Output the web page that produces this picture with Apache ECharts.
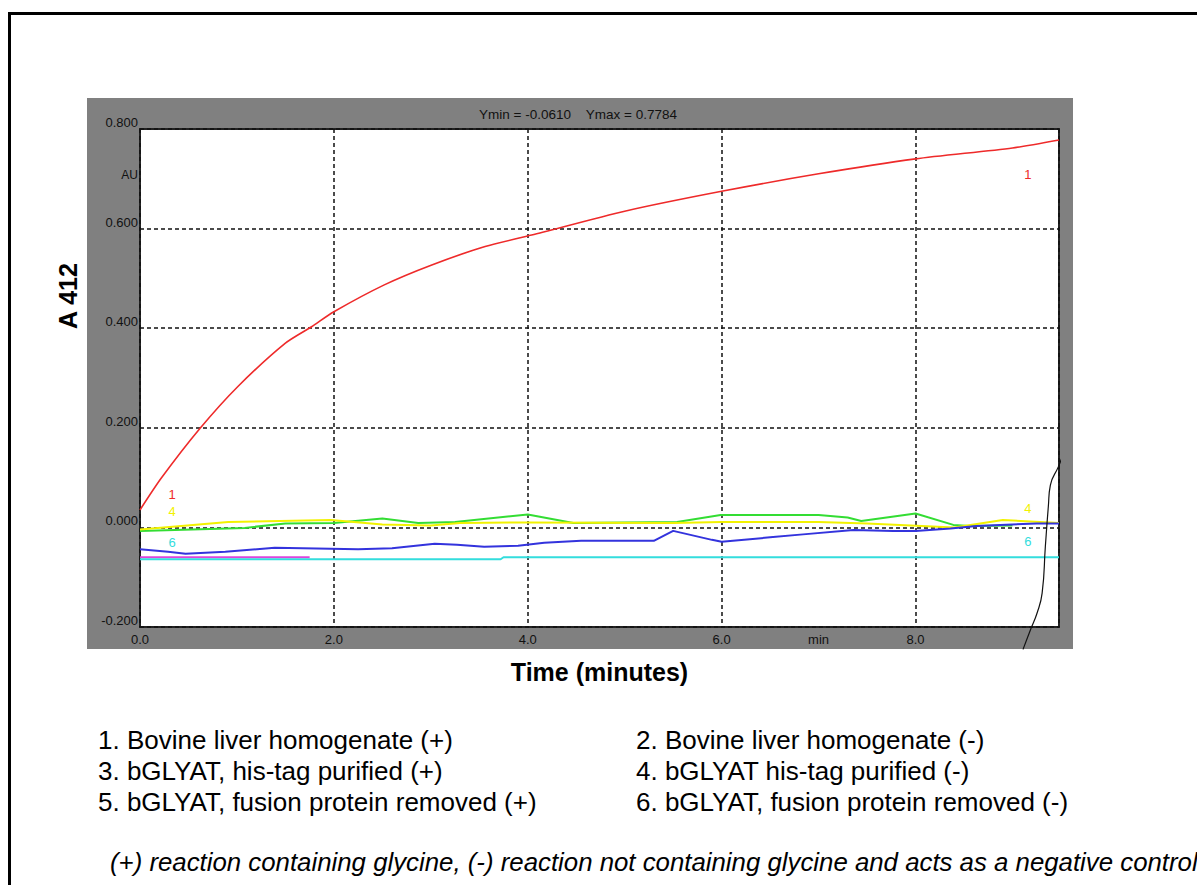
<!DOCTYPE html>
<html>
<head>
<meta charset="utf-8">
<script src="https://cdn.jsdelivr.net/npm/echarts@6/dist/echarts.min.js"></script>
<style>
  html, body { margin: 0; padding: 0; background: #fff; }
  #main { width: 1197px; height: 885px; }
</style>
</head>
<body>
<div id="main"></div>
<script>
// time (min) / A412 pairs
var liverPlus = [[0, 0.035], [0.22, 0.099], [0.62, 0.199], [1.01, 0.283], [1.5, 0.370], [1.77, 0.403],
    [2.0, 0.433], [2.52, 0.487], [3.01, 0.527], [3.56, 0.564], [4.04, 0.587], [5.0, 0.635],
    [6.0, 0.675], [7.0, 0.710], [8.0, 0.740], [9.0, 0.762], [9.48, 0.778]];
var liverMinus = [[0, -0.060], [1.75, -0.060]];
var hisPlus = [[0, -0.007], [1.08, -0.001], [1.5, 0.008], [2.0, 0.009], [2.5, 0.018], [2.87, 0.009],
    [3.25, 0.011], [4.0, 0.026], [4.47, 0.009], [5.54, 0.011], [5.99, 0.025], [7.0, 0.025],
    [7.3, 0.020], [7.44, 0.013], [8.0, 0.028], [8.39, 0.005], [8.56, 0.003], [9.0, 0.004]];
var hisMinus = [[0, -0.004], [0.91, 0.011], [1.97, 0.015], [2.5, 0.006], [3.0, 0.004], [3.3, 0.009],
    [4.0, 0.010], [5.5, 0.009], [6.0, 0.011], [7.0, 0.011], [7.5, 0.008], [8.4, 0.0],
    [8.9, 0.015], [9.48, 0.009]];
var fusionPlus = [[0, -0.044], [0.29, -0.049], [0.47, -0.053], [0.88, -0.049], [1.39, -0.041],
    [2.25, -0.044], [2.6, -0.042], [3.04, -0.033], [3.27, -0.035], [3.55, -0.039], [3.9, -0.037],
    [4.17, -0.031], [4.55, -0.027], [5.3, -0.027], [5.5, -0.007], [5.9, -0.025], [6.0, -0.029],
    [6.5, -0.020], [6.84, -0.014], [7.36, -0.005], [7.77, -0.007], [8.0, -0.007], [8.36, -0.002],
    [8.63, 0.003], [9.25, 0.008], [9.48, 0.008]];
var fusionMinus = [[0, -0.064], [3.72, -0.064], [3.75, -0.060], [9.48, -0.060]];
// pen stroke drawn across the right side of the printout
var penStroke = [[9.528, 0.149], [9.474, 0.122], [9.391, 0.085], [9.37, 0.042], [9.339, -0.039],
    [9.306, -0.132], [9.254, -0.172], [9.185, -0.206], [9.109, -0.245]];

// trace numbers printed by the instrument: [text, t, A412, colour]
var traceTags = [['1', 0.33, 0.067, '#ee2a2a'], ['1', 9.16, 0.708, '#ee2a2a'],
    ['4', 0.33, 0.031, '#f2f200'], ['4', 9.16, 0.037, '#f2f200'],
    ['6', 0.33, -0.031, '#33dddd'], ['6', 9.16, -0.029, '#33dddd']];

var legendLeft = ['1. Bovine liver homogenate (+)', '3. bGLYAT, his-tag purified (+)', '5. bGLYAT, fusion protein removed (+)'];
var legendRight = ['2. Bovine liver homogenate (-)', '4. bGLYAT his-tag purified (-)', '6. bGLYAT, fusion protein removed (-)'];
var footNote = '(+) reaction containing glycine, (-) reaction not containing glycine and acts as a negative control';
var rangeText = 'Ymin = -0.0610    Ymax = 0.7784';

var font = '"Liberation Sans", Arial, sans-serif';

function lineSeries(name, data, color, width, smooth) {
    return {
        name: name,
        type: 'line',
        data: data,
        smooth: smooth || false,
        showSymbol: false,
        symbol: 'none',
        lineStyle: { color: color, width: width },
        itemStyle: { color: color }
    };
}

var myChart = echarts.init(document.getElementById('main'), null, { renderer: 'svg' });
var option = {
    animation: false,
    backgroundColor: '#fff',
    grid: {
        left: 140, top: 129, right: 138, bottom: 258,
        show: true,
        backgroundColor: '#fff',
        borderColor: '#222',
        borderWidth: 2
    },
    xAxis: {
        type: 'value',
        min: 0, max: 9.48, interval: 2,
        name: 'Time (minutes)',
        nameLocation: 'middle',
        nameGap: 32,
        nameTextStyle: { fontFamily: font, fontSize: 25, fontWeight: 'bold', color: '#000' },
        axisLine: { show: false },
        axisTick: { show: false },
        axisLabel: {
            fontFamily: font, fontSize: 13, color: '#111', margin: 6,
            showMaxLabel: false,
            formatter: function (v) { return v.toFixed(1); }
        },
        splitLine: { show: true, lineStyle: { color: '#111', width: 1.5, type: [4, 3] } }
    },
    yAxis: {
        type: 'value',
        min: -0.2, max: 0.8, interval: 0.2,
        axisLine: { show: false },
        axisTick: { show: false },
        axisLabel: {
            fontFamily: font, fontSize: 13, color: '#111', margin: 2,
            verticalAlign: 'bottom',
            formatter: function (v) { return v.toFixed(3); }
        },
        splitLine: { show: true, lineStyle: { color: '#111', width: 1.5, type: [4, 3] } }
    },
    series: [
        lineSeries('1', liverPlus, '#ee2a2a', 1.6, 0.25),
        lineSeries('2', liverMinus, '#dd44dd', 2),
        lineSeries('3', hisPlus, '#33dd33', 2),
        lineSeries('4', hisMinus, '#f2f200', 2),
        lineSeries('5', fusionPlus, '#3333dd', 2),
        lineSeries('6', fusionMinus, '#33dddd', 2),
        {
            name: 'pen',
            type: 'line',
            data: penStroke,
            smooth: true,
            clip: false,
            symbol: 'none',
            z: 5,
            lineStyle: { color: '#111', width: 1.2 }
        }
    ]
};
myChart.setOption(option);

// fixed texts and instrument annotations
var g = [];
g.push({ type: 'rect', z: -10, shape: { x: 87, y: 98, width: 986, height: 551 }, style: { fill: '#808080' } });
g.push({ type: 'rect', z: -10, shape: { x: 9.5, y: 13.5, width: 1200, height: 900 }, style: { fill: 'none', stroke: '#000', lineWidth: 3 } });
g.push({ type: 'text', x: 578, y: 114, style: { text: rangeText, font: '13.5px ' + font, fill: '#111', textAlign: 'center', textVerticalAlign: 'middle' } });
g.push({ type: 'text', x: 138, y: 175, style: { text: 'AU', font: '12px ' + font, fill: '#111', textAlign: 'right', textVerticalAlign: 'middle' } });
var minPos = myChart.convertToPixel({ gridIndex: 0 }, [7, -0.2]);
g.push({ type: 'text', x: minPos[0], y: minPos[1] + 12, style: { text: 'min', font: '13px ' + font, fill: '#111', textAlign: 'center', textVerticalAlign: 'middle' } });
g.push({ type: 'text', x: 68, y: 296, rotation: Math.PI / 2, style: { text: 'A 412', font: 'bold 25px ' + font, fill: '#000', textAlign: 'center', textVerticalAlign: 'middle' } });
traceTags.forEach(function (t) {
    var p = myChart.convertToPixel({ gridIndex: 0 }, [t[1], t[2]]);
    g.push({ type: 'text', z: 50, x: p[0], y: p[1], style: { text: t[0], font: '13px ' + font, fill: t[3], textAlign: 'center', textVerticalAlign: 'middle' } });
});
for (var i = 0; i < legendLeft.length; i++) {
    g.push({ type: 'text', x: 98, y: 740 + i * 31, style: { text: legendLeft[i], font: '26px ' + font, fill: '#000', textVerticalAlign: 'middle' } });
    g.push({ type: 'text', x: 636, y: 740 + i * 31, style: { text: legendRight[i], font: '26px ' + font, fill: '#000', textVerticalAlign: 'middle' } });
}
g.push({ type: 'text', x: 110, y: 862, style: { text: footNote, font: 'italic 25.8px ' + font, fill: '#000', textVerticalAlign: 'middle' } });
myChart.setOption({ graphic: g });
</script>
</body>
</html>
